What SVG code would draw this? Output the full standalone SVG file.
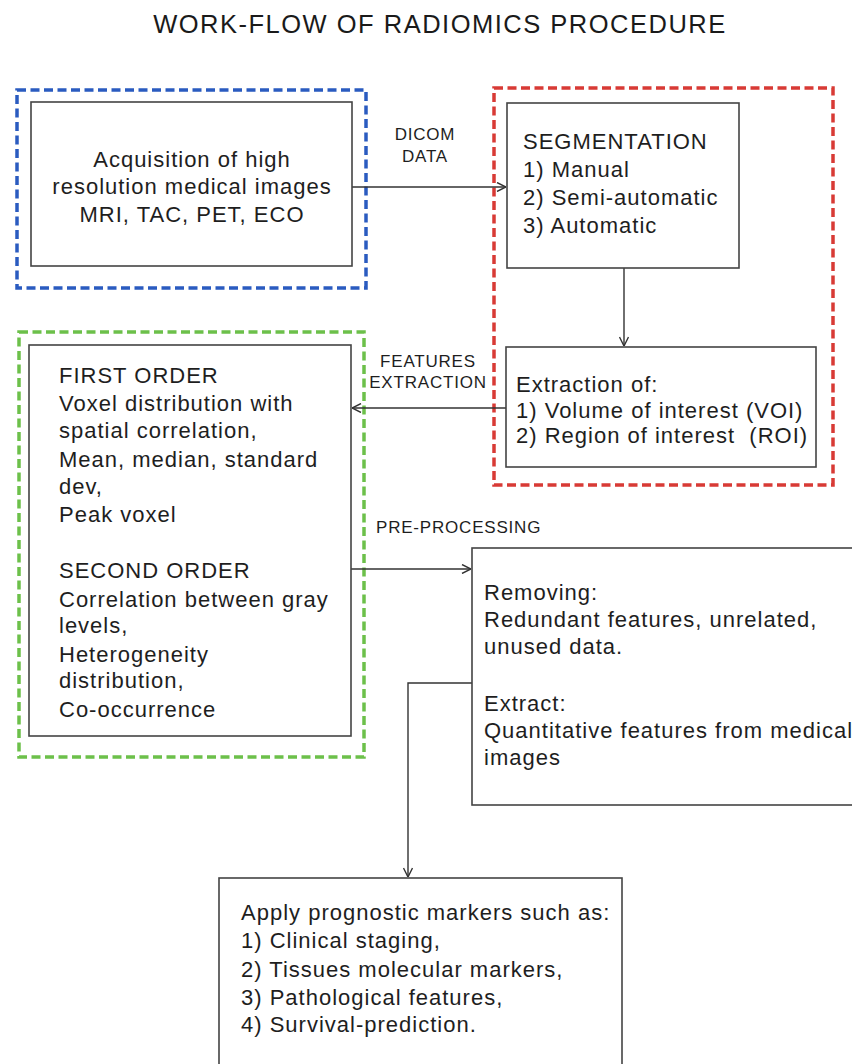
<svg xmlns="http://www.w3.org/2000/svg" width="852" height="1064" viewBox="0 0 852 1064">
  <style>
    .t { font-family: "Liberation Sans", Arial, sans-serif; font-size: 22px; letter-spacing: 1px; fill: #1e1e1e; }
    .lbl { font-family: "Liberation Sans", Arial, sans-serif; font-size: 17px; letter-spacing: 0.8px; fill: #1e1e1e; }
    .title { font-family: "Liberation Sans", Arial, sans-serif; font-size: 25.5px; letter-spacing: 1.5px; fill: #1a1a1a; }
    .box { fill: #ffffff; stroke: #444444; stroke-width: 1.6; }
    .dash { fill: none; stroke-width: 3.5; stroke-dasharray: 9 4.5; }
    .conn { fill: none; stroke: #333333; stroke-width: 1.4; }
  </style>
  <defs>
    <marker id="arr" viewBox="0 0 10 10" refX="10" refY="5" markerWidth="10" markerHeight="10" markerUnits="userSpaceOnUse" orient="auto">
      <path d="M1,0.5 L10,5 L1,9.5" fill="none" stroke="#333333" stroke-width="1.4"/>
    </marker>
  </defs>
  <rect width="852" height="1064" fill="#ffffff"/>

  <text class="title" x="440" y="33" text-anchor="middle">WORK-FLOW OF RADIOMICS PROCEDURE</text>

  <g id="group-acquisition">
    <rect class="dash" x="17" y="90" width="349" height="198" stroke="#2a5bc0"/>
  </g>
  <g id="group-segmentation">
    <rect class="dash" x="494" y="88" width="339" height="397" stroke="#d83a35"/>
  </g>
  <g id="group-features">
    <rect class="dash" x="19" y="332" width="345" height="425" stroke="#6cc04a"/>
  </g>

  <g id="connectors">
    <line class="conn" x1="352" y1="187" x2="506" y2="187" marker-end="url(#arr)"/>
    <line class="conn" x1="624" y1="268" x2="624" y2="346" marker-end="url(#arr)"/>
    <line class="conn" x1="506" y1="408" x2="352" y2="408" marker-end="url(#arr)"/>
    <line class="conn" x1="351" y1="569" x2="471" y2="569" marker-end="url(#arr)"/>
    <polyline class="conn" points="472,683 408,683 408,877" marker-end="url(#arr)"/>
    <text class="lbl" x="425" y="140" text-anchor="middle">DICOM</text>
    <text class="lbl" x="425" y="162" text-anchor="middle">DATA</text>
    <text class="lbl" x="428" y="367" text-anchor="middle">FEATURES</text>
    <text class="lbl" x="428" y="388" text-anchor="middle">EXTRACTION</text>
    <text class="lbl" x="376" y="533">PRE-PROCESSING</text>
  </g>

  <g id="node-acquisition">
    <rect class="box" x="31" y="102" width="321" height="164"/>
    <text class="t" x="192" y="167" text-anchor="middle">Acquisition of high</text>
    <text class="t" x="192" y="194" text-anchor="middle">resolution medical images</text>
    <text class="t" x="192" y="222" text-anchor="middle">MRI, TAC, PET, ECO</text>
  </g>

  <g id="node-segmentation">
    <rect class="box" x="507" y="103" width="232" height="165"/>
    <text class="t" x="523" y="149">SEGMENTATION</text>
    <text class="t" x="523" y="177">1) Manual</text>
    <text class="t" x="523" y="205">2) Semi-automatic</text>
    <text class="t" x="523" y="233">3) Automatic</text>
  </g>

  <g id="node-extraction">
    <rect class="box" x="506" y="347" width="310" height="120"/>
    <text class="t" x="516" y="392">Extraction of:</text>
    <text class="t" x="516" y="418">1) Volume of interest (VOI)</text>
    <text class="t" x="516" y="443" xml:space="preserve">2) Region of interest  (ROI)</text>
  </g>

  <g id="node-features">
    <rect class="box" x="29" y="345" width="322" height="391"/>
    <text class="t" x="59" y="383">FIRST ORDER</text>
    <text class="t" x="59" y="411">Voxel distribution with</text>
    <text class="t" x="59" y="438">spatial correlation,</text>
    <text class="t" x="59" y="467">Mean, median, standard</text>
    <text class="t" x="59" y="494">dev,</text>
    <text class="t" x="59" y="522">Peak voxel</text>
    <text class="t" x="59" y="578">SECOND ORDER</text>
    <text class="t" x="59" y="607">Correlation between gray</text>
    <text class="t" x="59" y="633">levels,</text>
    <text class="t" x="59" y="662">Heterogeneity</text>
    <text class="t" x="59" y="688">distribution,</text>
    <text class="t" x="59" y="717">Co-occurrence</text>
  </g>

  <g id="node-preprocessing">
    <rect class="box" x="472" y="548" width="400" height="257"/>
    <text class="t" x="484" y="600">Removing:</text>
    <text class="t" x="484" y="627">Redundant features, unrelated,</text>
    <text class="t" x="484" y="654">unused data.</text>
    <text class="t" x="484" y="711">Extract:</text>
    <text class="t" x="484" y="738">Quantitative features from medical</text>
    <text class="t" x="484" y="765">images</text>
  </g>

  <g id="node-prognostic">
    <rect class="box" x="219" y="878" width="403" height="200"/>
    <text class="t" x="241" y="920">Apply prognostic markers such as:</text>
    <text class="t" x="241" y="948">1) Clinical staging,</text>
    <text class="t" x="241" y="977">2) Tissues molecular markers,</text>
    <text class="t" x="241" y="1005">3) Pathological features,</text>
    <text class="t" x="241" y="1032">4) Survival-prediction.</text>
  </g>
</svg>
